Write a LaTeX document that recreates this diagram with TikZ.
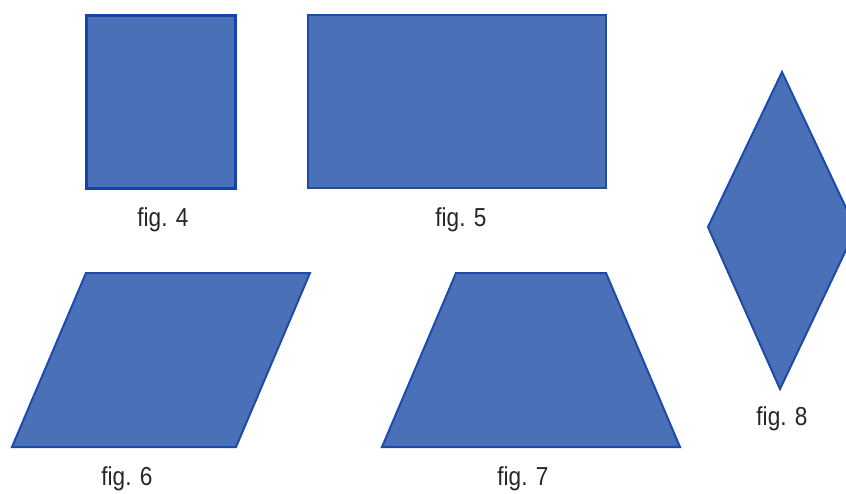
\documentclass[tikz,border=0pt]{standalone}
\usepackage{fontspec}
\setmainfont{Liberation Sans}
\definecolor{shapefill}{HTML}{4A70B8}
\definecolor{shapeedge}{HTML}{1E4BA8}
\definecolor{squareedge}{HTML}{1543AC}
\begin{document}
\begin{tikzpicture}[x=1pt,y=-1pt,
  shp/.style={fill=shapefill,draw=shapeedge,line width=2pt,line join=miter},
  lbl/.style={font=\fontsize{26}{29}\selectfont,text=black!85,xscale=0.87,inner sep=0pt}]
\useasboundingbox (0,0) rectangle (846,493);
\clip (0,0) rectangle (846,493);
% fig 4 square
\draw[shp,line width=3pt,draw=squareedge] (86,15) rectangle (235,188);
% fig 5 rectangle
\draw[shp] (308,15) rectangle (606,188);
% fig 6 parallelogram
\draw[shp] (86,273) -- (310,273) -- (236,447) -- (12,447) -- cycle;
% fig 7 trapezoid
\draw[shp] (456,273) -- (606,273) -- (680,447) -- (382,447) -- cycle;
% fig 8 rhombus
\draw[shp] (782,72) -- (856,229) -- (780,389) -- (708,227) -- cycle;
% labels
\node[lbl] (l4) at (163,220) {fig. 4};
\node[lbl] (l5) at (461,220) {fig. 5};
\node[lbl] (l6) at (127,479) {fig. 6};
\node[lbl] (l7) at (523,479) {fig. 7};
\node[lbl] (l8) at (782,419) {fig. 8};
\end{tikzpicture}
\end{document}
